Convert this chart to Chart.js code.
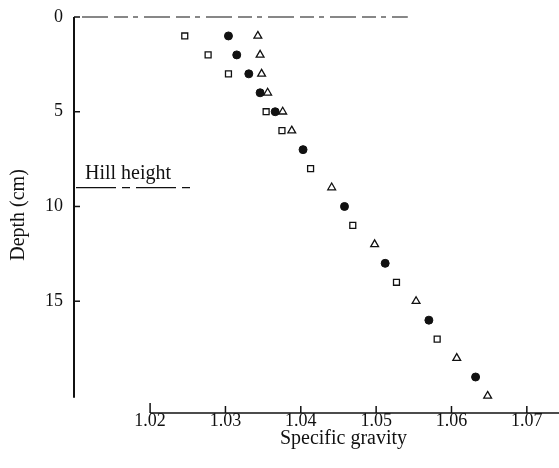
<!DOCTYPE html>
<html>
<head>
<meta charset="utf-8">
<script src="https://cdn.jsdelivr.net/npm/chart.js@4"></script>
<style>
  body { margin: 0; background: #fff; }
  #wrap { width: 559px; height: 468px; }
</style>
</head>
<body>
<div id="wrap"><canvas id="myChart" width="559" height="468"></canvas></div>
<script>
// depth (cm) and specific gravity for each marker type
var squareDepth = [1, 2, 3, 5, 6, 8, 11, 14, 17];
var squareSG = [1.0246, 1.0277, 1.0304, 1.0354, 1.0375, 1.0413, 1.0469, 1.0527, 1.0581];

var circleDepth = [1, 2, 3, 4, 5, 7, 10, 13, 16, 19];
var circleSG = [1.0304, 1.0315, 1.0331, 1.0346, 1.0366, 1.0403, 1.0458, 1.0512, 1.0570, 1.0632];

var triangleDepth = [1, 2, 3, 4, 5, 6, 9, 12, 15, 18, 20];
var triangleSG = [1.0343, 1.0346, 1.0348, 1.0356, 1.0376, 1.0388, 1.0441, 1.0498, 1.0553, 1.0607, 1.0648];

var xTicks = [1.02, 1.03, 1.04, 1.05, 1.06, 1.07];
var yTicks = [0, 5, 10, 15];

var hillDepth = 9;
var hillLabel = 'Hill height';

var serif = '"Liberation Serif", "DejaVu Serif", serif';

function toPoints(xs, ys) {
  return xs.map(function (v, i) { return { x: v, y: ys[i] }; });
}

// axis lines, inward ticks, the surface line and the hill height mark
var axesPlugin = {
  id: 'axesPlugin',
  afterDraw: function (chart) {
    var c = chart.ctx;
    var xs = chart.scales.x, ys = chart.scales.y;
    var left = chart.chartArea.left, bottom = chart.chartArea.bottom;
    c.save();
    c.strokeStyle = '#111';
    c.fillStyle = '#111';

    // y axis
    c.lineWidth = 2;
    c.beginPath();
    c.moveTo(left, ys.getPixelForValue(0));
    c.lineTo(left, ys.getPixelForValue(20.1));
    c.stroke();
    c.lineWidth = 1.5;
    yTicks.forEach(function (t) {
      var p = ys.getPixelForValue(t);
      c.beginPath();
      c.moveTo(left, p);
      c.lineTo(left + 6, p);
      c.stroke();
    });

    // x axis
    c.beginPath();
    c.moveTo(xs.getPixelForValue(xTicks[0]), bottom);
    c.lineTo(chart.width, bottom);
    c.stroke();
    xTicks.forEach(function (t, i) {
      var p = xs.getPixelForValue(t);
      c.beginPath();
      c.moveTo(p, bottom);
      c.lineTo(p, bottom - (i === 0 ? 10 : 7));
      c.stroke();
    });

    // surface line at depth 0
    c.lineWidth = 1.2;
    c.setLineDash([26, 6, 14, 5, 5, 6]);
    c.beginPath();
    c.moveTo(left + 8, ys.getPixelForValue(0));
    c.lineTo(xs.getPixelForValue(1.0542), ys.getPixelForValue(0));
    c.stroke();

    // hill height
    var hy = ys.getPixelForValue(hillDepth);
    c.setLineDash([40, 6, 8, 6]);
    c.beginPath();
    c.moveTo(left + 2, hy);
    c.lineTo(xs.getPixelForValue(1.0255), hy);
    c.stroke();
    c.setLineDash([]);
    c.font = '20px ' + serif;
    c.textAlign = 'left';
    c.textBaseline = 'alphabetic';
    c.fillText(hillLabel, left + 11, hy - 9);

    // x axis title, centred under the tick range
    c.textAlign = 'center';
    var mid = (xs.getPixelForValue(xTicks[0]) + xs.getPixelForValue(xTicks[xTicks.length - 1])) / 2;
    c.fillText('Specific gravity', mid + 5, 444);
    c.restore();
  }
};

var ctx = document.getElementById('myChart').getContext('2d');

var myChart = new Chart(ctx, {
  type: 'scatter',
  data: {
    datasets: [{
      label: 'squares',
      data: toPoints(squareSG, squareDepth),
      pointStyle: 'rect',
      pointRadius: 4.2,
      pointBorderWidth: 1.3,
      borderColor: '#111',
      backgroundColor: '#fff'
    }, {
      label: 'circles',
      data: toPoints(circleSG, circleDepth),
      pointStyle: 'circle',
      pointRadius: 4,
      pointBorderWidth: 1,
      borderColor: '#111',
      backgroundColor: '#111'
    }, {
      label: 'triangles',
      data: toPoints(triangleSG, triangleDepth),
      pointStyle: 'triangle',
      pointRadius: 4.5,
      pointBorderWidth: 1.3,
      borderColor: '#111',
      backgroundColor: '#fff'
    }]
  },
  options: {
    responsive: false,
    animation: false,
    layout: { padding: { top: 17, right: 3, left: 0, bottom: 0 } },
    plugins: {
      legend: { display: false },
      tooltip: { enabled: false }
    },
    scales: {
      x: {
        type: 'linear',
        min: 1.0099,
        max: 1.0735,
        grid: { display: false, drawTicks: false },
        border: { display: false },
        afterBuildTicks: function (scale) {
          scale.ticks = xTicks.map(function (v) { return { value: v }; });
        },
        afterFit: function (scale) {
          scale.height = 55;
          scale.paddingLeft = 0;
          scale.paddingRight = 0;
        },
        ticks: {
          padding: -3,
          color: '#111',
          font: { family: serif, size: 18 },
          callback: function (v) { return v.toFixed(2); }
        }
      },
      y: {
        type: 'linear',
        reverse: true,
        min: 0,
        max: 20.9,
        grid: { display: false, drawTicks: false },
        border: { display: false },
        afterBuildTicks: function (scale) {
          scale.ticks = yTicks.map(function (v) { return { value: v }; });
        },
        afterFit: function (scale) {
          scale.width = 74;
          scale.paddingTop = 0;
          scale.paddingBottom = 0;
        },
        ticks: {
          padding: 11,
          color: '#111',
          font: { family: serif, size: 18 },
          callback: function (v) { return String(v); }
        },
        title: {
          display: true,
          text: 'Depth (cm)',
          color: '#111',
          font: { family: serif, size: 20 },
          padding: { top: 7, bottom: 0 }
        }
      }
    }
  },
  plugins: [axesPlugin]
});
</script>
</body>
</html>
